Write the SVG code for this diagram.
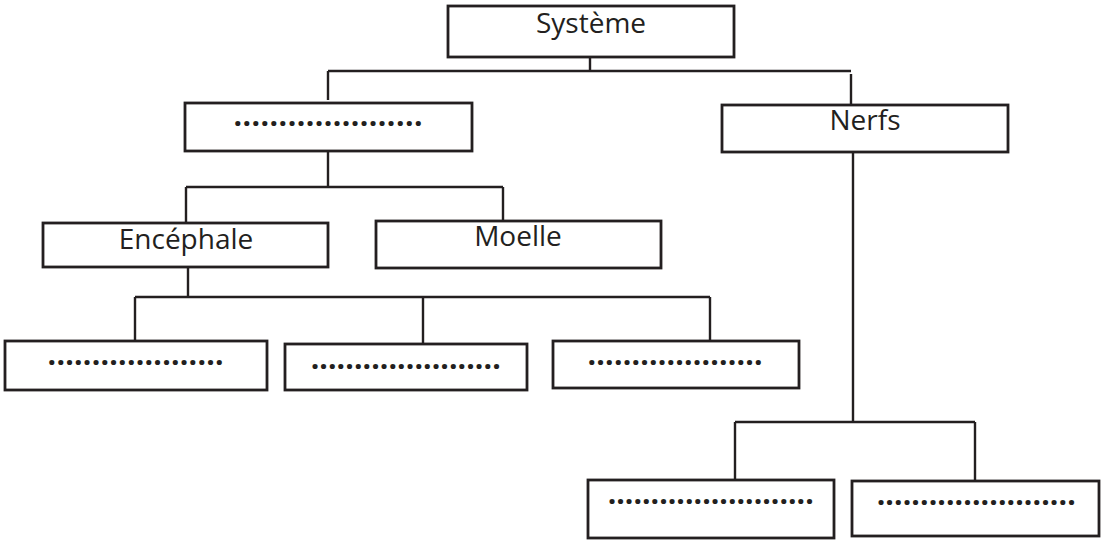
<svg xmlns="http://www.w3.org/2000/svg" width="1105" height="540" viewBox="0 0 1105 540">
<style>
.box{fill:#fff;stroke:#231f20;stroke-width:2.8}
.lbl{font-family:"Open Sans","Liberation Sans",sans-serif;font-size:28px;fill:#231f20;text-anchor:middle}
.dots{font-family:"Open Sans","Liberation Sans",sans-serif;font-size:30px;font-weight:bold;fill:#231f20}
.con{fill:none;stroke:#231f20;stroke-width:2.4}
</style>
<rect width="1105" height="540" fill="#fff"/>
<g id="connectors">
<path class="con" d="M590 57 V71 M328 71 H851 M328 71 V100 M851 74 V105"/>
<path class="con" d="M328 151 V187 M186 187 H503 M186 187 V223 M503 187 V221"/>
<path class="con" d="M188 267 V297 M135 297 H710 M135 297 V341 M423 297 V344 M710 297 V341"/>
<path class="con" d="M853 152 V422 M735 422 H975 M735 422 V480 M975 422 V481"/>
</g>
<g id="systeme"><rect class="box" x="448" y="6" width="286" height="51"/><text class="lbl" x="591" y="33">Système</text></g>
<g id="snc"><rect class="box" x="185" y="103" width="287" height="48"/><text class="dots" x="233.5" y="126" textLength="189" lengthAdjust="spacing">.....................</text></g>
<g id="nerfs"><rect class="box" x="722" y="105" width="286" height="47"/><text class="lbl" x="865" y="130">Nerfs</text></g>
<g id="encephale"><rect class="box" x="43" y="223" width="285" height="44"/><text class="lbl" x="186" y="249">Encéphale</text></g>
<g id="moelle"><rect class="box" x="376" y="221" width="285" height="47"/><text class="lbl" x="518" y="246">Moelle</text></g>
<g id="boxA"><rect class="box" x="5" y="341" width="262" height="49"/><text class="dots" x="47.6" y="365" textLength="176" lengthAdjust="spacing">....................</text></g>
<g id="boxB"><rect class="box" x="285" y="344" width="242" height="46"/><text class="dots" x="310.7" y="369" textLength="190" lengthAdjust="spacing">......................</text></g>
<g id="boxC"><rect class="box" x="553" y="341" width="246" height="47"/><text class="dots" x="587.6" y="365" textLength="175" lengthAdjust="spacing">....................</text></g>
<g id="boxD"><rect class="box" x="588" y="480" width="246" height="58"/><text class="dots" x="607.7" y="504" textLength="206" lengthAdjust="spacing">........................</text></g>
<g id="boxE"><rect class="box" x="852" y="481" width="247" height="55"/><text class="dots" x="876.7" y="505" textLength="199" lengthAdjust="spacing">.......................</text></g>
</svg>
